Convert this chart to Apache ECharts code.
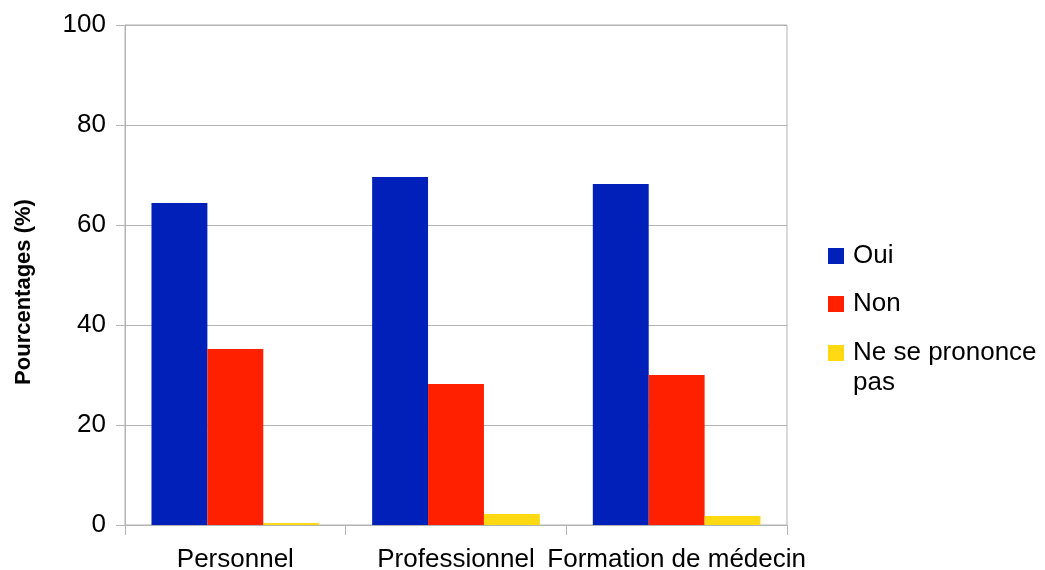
<!DOCTYPE html>
<html>
<head>
<meta charset="utf-8">
<script src="https://cdn.jsdelivr.net/npm/echarts@6/dist/echarts.min.js"></script>
<style>
  html, body { margin: 0; padding: 0; background: #fff; }
  #chart { width: 1045px; height: 570px; }
</style>
</head>
<body>
<div id="chart"></div>
<script>
// Categories and answers (percent of respondents)
const categories = ['Personnel', 'Professionnel', 'Formation de médecin'];
const seriesNames = ['Oui', 'Non', 'Ne se prononce pas'];
const oui = [64.4, 69.6, 68.2];
const non = [35.2, 28.2, 30.0];
const nsp = [0.4, 2.2, 1.8];
const yTicks = [0, 20, 40, 60, 80, 100];

const colors = ['#0021b9', '#ff2000', '#ffd912'];
const gridColor = '#b3b3b3';
const font = 'Liberation Sans, Arial, sans-serif';

const chart = echarts.init(document.getElementById('chart'));

const legendText = {
  color: '#000',
  fontFamily: font,
  fontSize: 26,
  lineHeight: 30,
  padding: [0, 0, 0, 4]
};

chart.setOption({
  animation: false,
  color: colors,
  grid: {
    left: 125, right: 258, top: 25, bottom: 45,
    outerBoundsMode: 'none',
    containLabel: false,
    show: true, borderColor: gridColor, borderWidth: 1
  },
  legend: [
    {
      data: [seriesNames[0], seriesNames[1]],
      orient: 'vertical',
      left: 828, top: 241,
      padding: 0,
      itemWidth: 16, itemHeight: 16, itemGap: 18,
      icon: 'rect',
      textStyle: legendText
    },
    {
      data: [seriesNames[2]],
      orient: 'vertical',
      left: 828, top: 308,
      padding: 0,
      itemWidth: 16, itemHeight: 16,
      icon: 'rect',
      // first line sits beside the swatch, the rest wraps below it
      formatter: () => '\nNe se prononce\npas',
      textStyle: legendText
    }
  ],
  xAxis: {
    type: 'category',
    data: categories,
    boundaryGap: true,
    axisLine: { lineStyle: { color: gridColor } },
    axisTick: { show: true, length: 10, alignWithLabel: false, lineStyle: { color: gridColor } },
    axisLabel: { color: '#000', fontFamily: font, fontSize: 26, margin: 22, interval: 0 },
    splitLine: { show: false }
  },
  yAxis: {
    type: 'value',
    min: yTicks[0],
    max: yTicks[yTicks.length - 1],
    interval: yTicks[1] - yTicks[0],
    name: 'Pourcentages (%)',
    nameLocation: 'middle',
    nameGap: 90,
    nameRotate: 90,
    nameTextStyle: {
      color: '#000', fontFamily: font, fontSize: 22, fontWeight: 'bold',
      padding: [0, 34, 0, 0]
    },
    axisLine: { show: true, lineStyle: { color: gridColor } },
    axisTick: { show: true, length: 9, lineStyle: { color: gridColor } },
    axisLabel: { color: '#000', fontFamily: font, fontSize: 26, margin: 19 },
    splitLine: { show: true, lineStyle: { color: gridColor } }
  },
  series: [
    { name: seriesNames[0], type: 'bar', data: oui, barGap: '0%', barCategoryGap: '24%' },
    { name: seriesNames[1], type: 'bar', data: non, barGap: '0%', barCategoryGap: '24%' },
    { name: seriesNames[2], type: 'bar', data: nsp, barGap: '0%', barCategoryGap: '24%' }
  ]
});
</script>
</body>
</html>
